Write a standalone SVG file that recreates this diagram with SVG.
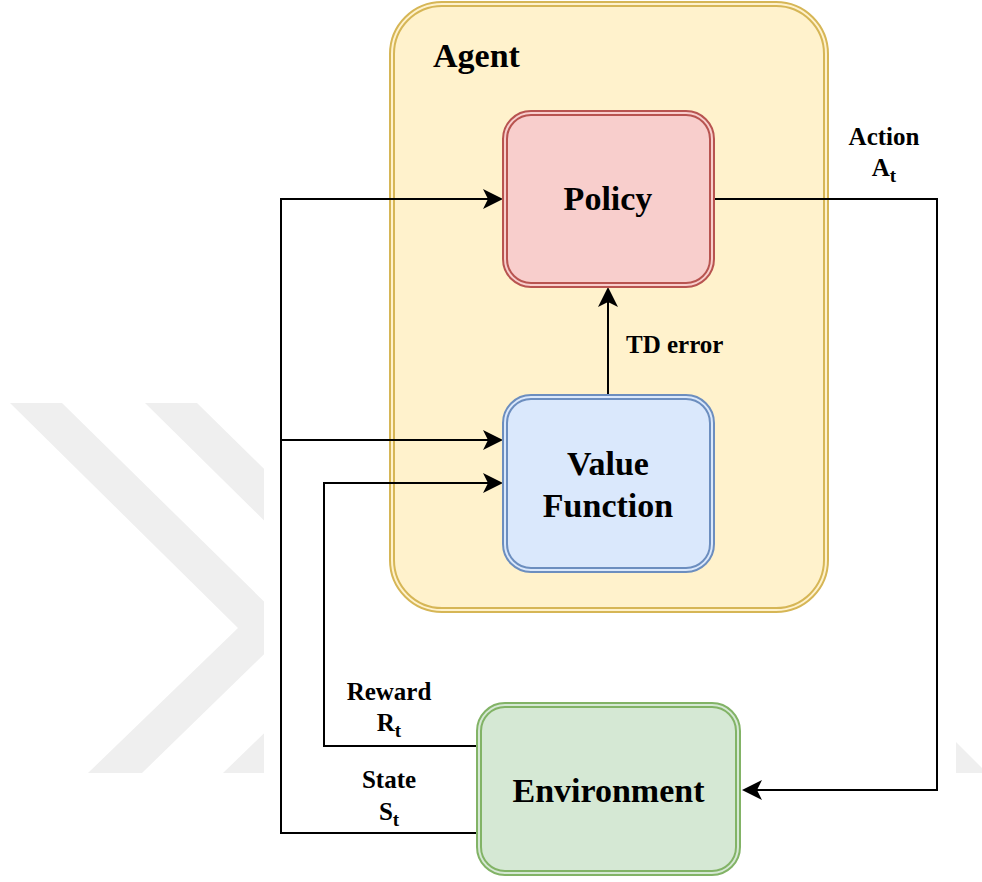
<svg xmlns="http://www.w3.org/2000/svg" width="982" height="882" viewBox="0 0 982 882">
<style>
.wm{fill:#efefef;stroke:none}
.lbl{font-family:"Liberation Serif","Times New Roman",serif;font-weight:bold;fill:#000}
.node{font-size:34px}
.edge{font-size:25px}
.sub{font-size:19px}
.conn{fill:none;stroke:#000;stroke-width:2}
</style>
<defs>
<marker id="arr" markerUnits="userSpaceOnUse" markerWidth="22" markerHeight="22" refX="10" refY="10" orient="auto" viewBox="0 0 22 22">
<path d="M0,0 L20,10 L0,20 L5,10 Z" fill="#000"/>
</marker>
</defs>
<rect x="0" y="0" width="982" height="882" fill="#fff"/>
<g id="watermark">
<polygon class="wm" points="10,403 62,403 291,628 142,773 88,773 238,628"/>
<polygon class="wm" points="145,403 197,403 426,628 277,773 223,773 373,628"/>
<rect x="264" y="0" width="692" height="882" fill="#fff"/>
<polygon class="wm" points="956,742 987,773 956,773"/>
</g>
<g id="agent">
<rect x="390" y="2" width="438" height="610" rx="52" fill="#fff2cc" stroke="#d6b656" stroke-width="2"/>
<rect x="394" y="6" width="430" height="602" rx="48" fill="none" stroke="#d6b656" stroke-width="2"/>
<text class="lbl node" x="433" y="67">Agent</text>
</g>
<g id="connectors">
<path class="conn" d="M714,199 H937 V790 H752" marker-end="url(#arr)"/>
<path class="conn" d="M477,833 H281 V199 H493" marker-end="url(#arr)"/>
<path class="conn" d="M281,440 H493" marker-end="url(#arr)"/>
<path class="conn" d="M477,746 H324 V483 H493" marker-end="url(#arr)"/>
<path class="conn" d="M608,395 V297" marker-end="url(#arr)"/>
<text class="lbl edge" x="626" y="353">TD error</text>
<text class="lbl edge" x="884" y="145" text-anchor="middle">Action</text>
<text class="lbl edge" x="884" y="176" text-anchor="middle">A<tspan class="sub" dy="6">t</tspan></text>
<text class="lbl edge" x="389" y="700" text-anchor="middle">Reward</text>
<text class="lbl edge" x="389" y="731" text-anchor="middle">R<tspan class="sub" dy="6">t</tspan></text>
<text class="lbl edge" x="389" y="788" text-anchor="middle">State</text>
<text class="lbl edge" x="389" y="820" text-anchor="middle">S<tspan class="sub" dy="6">t</tspan></text>
</g>
<g id="policy">
<rect x="503" y="111" width="211" height="176" rx="28" fill="#f8cecc" stroke="#b85450" stroke-width="2"/>
<rect x="507" y="115" width="203" height="168" rx="24" fill="none" stroke="#b85450" stroke-width="2"/>
<text class="lbl node" x="608" y="210" text-anchor="middle">Policy</text>
</g>
<g id="value-function">
<rect x="503" y="395" width="211" height="177" rx="28" fill="#dae8fc" stroke="#6c8ebf" stroke-width="2"/>
<rect x="507" y="399" width="203" height="169" rx="24" fill="none" stroke="#6c8ebf" stroke-width="2"/>
<text class="lbl node" x="608" y="475" text-anchor="middle">Value</text>
<text class="lbl node" x="608" y="517" text-anchor="middle">Function</text>
</g>
<g id="environment">
<rect x="477" y="703" width="263" height="172" rx="28" fill="#d5e8d4" stroke="#82b366" stroke-width="2"/>
<rect x="481" y="707" width="255" height="164" rx="24" fill="none" stroke="#82b366" stroke-width="2"/>
<text class="lbl node" x="608.5" y="802" text-anchor="middle">Environment</text>
</g>
</svg>
